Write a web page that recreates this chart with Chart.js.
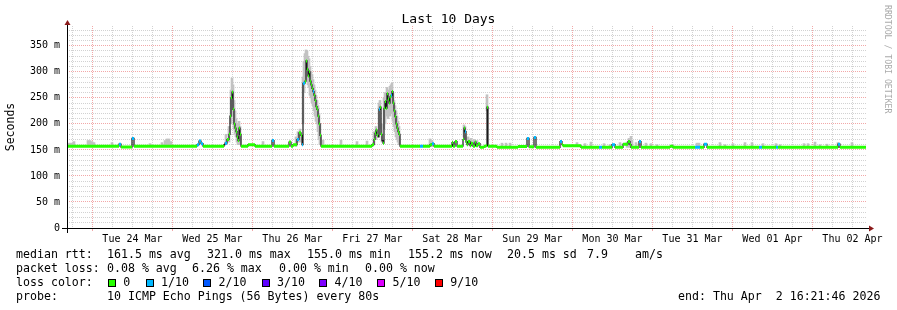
<!DOCTYPE html>
<html><head><meta charset="utf-8">
<script src="https://cdn.jsdelivr.net/npm/chart.js@4.4.1/dist/chart.umd.min.js"></script>
<style>
html,body{margin:0;padding:0;background:#fff;}
#wrap{position:relative;width:897px;height:310px;overflow:hidden;font-family:'DejaVu Sans Mono',monospace;color:#000;background:#fff;}
#wrap canvas{position:absolute;left:0;top:0;}
.tx{position:absolute;white-space:pre;font-size:11.6px;line-height:14px;}
.sq{position:absolute;width:6px;height:6px;border:1px solid #000;}
#title{position:absolute;left:0;top:11px;width:897px;text-align:center;font-size:13px;line-height:16px;white-space:pre;}
#rrd{position:absolute;left:883px;top:5px;writing-mode:vertical-rl;font-size:8.2px;line-height:10px;color:#aaaaaa;white-space:pre;}
</style></head><body>
<div id="wrap">
<canvas id="c" width="897" height="310"></canvas>
<div id="title">Last 10 Days</div>
<div id="rrd">RRDTOOL / TOBI OETIKER</div>
<div class="tx" style="left:16px;top:247px">median rtt:</div>
<div class="tx" style="left:107px;top:247px">161.5 ms avg</div>
<div class="tx" style="left:207px;top:247px">321.0 ms max</div>
<div class="tx" style="left:307px;top:247px">155.0 ms min</div>
<div class="tx" style="left:408px;top:247px">155.2 ms now</div>
<div class="tx" style="left:507px;top:247px">20.5 ms sd</div>
<div class="tx" style="left:587px;top:247px">7.9</div>
<div class="tx" style="left:635px;top:247px">am/s</div>
<div class="tx" style="left:16px;top:261px">packet loss:</div>
<div class="tx" style="left:107px;top:261px">0.08 % avg</div>
<div class="tx" style="left:192px;top:261px">6.26 % max</div>
<div class="tx" style="left:279px;top:261px">0.00 % min</div>
<div class="tx" style="left:365px;top:261px">0.00 % now</div>
<div class="tx" style="left:16px;top:275px">loss color:</div>
<div id="lossLegend"></div>
<div class="tx" style="left:16px;top:289px">probe:</div>
<div class="tx" style="left:107px;top:289px">10 ICMP Echo Pings (56 Bytes) every 80s</div>
<div class="tx" style="left:678px;top:289px">end: Thu Apr  2 16:21:46 2026</div>
</div>
<script>
// ---------- DATA ----------
// time axis: hours since window start (Mon 23 Mar 16:21:46), 240 h = 10 days
const xTickLabels = ['Tue 24 Mar','Wed 25 Mar','Thu 26 Mar','Fri 27 Mar','Sat 28 Mar','Sun 29 Mar','Mon 30 Mar','Tue 31 Mar','Wed 01 Apr','Thu 02 Apr'];
const lossLabels = ['0','1/10','2/10','3/10','4/10','5/10','9/10'];
const lossColors = ['#26ff00','#00b8ff','#0059ff','#5e00ff','#7e00ff','#dd00ff','#ff0000'];

// median rtt (ms): value holds from each time until the next one
const medianT = [
  0,15.6,16.2,19.5,20.1,39,39.6,40.2,40.8,47.1,
  47.4,48,48.6,48.9,49.2,49.5,49.8,50.1,50.4,50.7,
  51,51.3,51.6,51.9,52.2,54.3,56.4,61.5,62.1,66.6,
  67.2,67.8,69,69.6,70.2,70.5,70.8,71.4,71.7,72,
  72.3,72.6,72.9,73.2,73.5,73.8,74.1,74.4,74.7,75,
  75.3,75.6,75.9,76.2,91.5,92.1,92.4,92.7,93,93.3,
  93.6,93.9,94.2,94.5,94.8,95.1,95.4,95.7,96,96.3,
  96.6,96.9,97.2,97.5,97.8,98.1,98.4,98.7,99,99.3,
  99.6,99.9,105.9,106.8,108.9,109.5,110.1,115.5,115.8,116.4,
  117,118.8,119.1,119.4,119.7,120,120.3,120.9,121.2,121.8,
  122.4,122.7,123.3,123.9,125.1,125.7,126,126.3,129,135.3,
  138,138.6,140.1,140.7,147.9,148.5,148.8,154.2,159.6,160.5,
  163.5,164.4,166.8,168.3,168.9,169.2,171.6,172.2,180.9,181.8,
  188.4,189.9,191.1,192,207.6,208.5,212.7,213.3,231.3,231.9,
  239.7];
const medianV = [
  157,161,155.5,172,157,160,167,162,157,160,
  163,170,180,215,250,261,228,200,192,185,
  175,168,192,180,157,160,157,168,157,165,
  157,160,170,183,178,160,278,282,321,305,
  292,300,282,275,268,262,255,245,233,228,
  215,200,178,157,160,170,182,188,178,175,
  228,232,180,168,163,230,243,230,258,248,
  240,252,255,262,240,225,214,200,192,185,
  180,157,157,157,160,162,157,164,157,166,
  157,170,192,185,165,160,166,158,163,157,
  165,158,162,155,157,158,232,157,155,156.5,
  172,156,174,155,166,160,158,155,155,155,
  160,155,161,166,160,155,166,155,157,155,
  155,155,161,155,155,155,155,155,161,155,
  155];
// number of lost pings (of 10) for each median value
const medianLoss = [
  0,1,0,1,0,1,1,1,0,0,
  1,0,0,0,0,0,0,0,0,0,
  0,0,0,0,0,0,0,1,0,0,
  0,0,1,0,0,1,1,0,0,0,
  0,0,0,0,0,1,0,0,0,0,
  0,0,0,0,0,0,0,0,0,0,
  1,0,0,0,0,0,0,0,0,0,
  0,0,1,0,0,0,0,0,0,0,
  0,0,1,0,0,1,0,0,0,0,
  0,0,0,1,0,0,0,0,0,0,
  0,0,0,0,0,0,0,0,0,0,
  1,0,1,0,1,0,0,0,1,0,
  1,0,0,0,0,0,1,0,0,0,
  1,0,1,0,1,0,1,0,1,0,
  0];

// smoke: spread of the individual pings (ms)
const smokeT = [
  0.6,1.2,1.8,2.1,6.3,6.9,7.5,8.1,13.5,24.9,
  28.5,29.4,30,30.6,31.2,47.7,48.6,49.2,49.5,49.8,
  50.1,50.4,50.7,51,51.3,51.6,51.9,58.8,68.7,69.3,
  69.9,70.8,71.1,71.4,71.7,72,72.3,72.6,72.9,73.2,
  73.5,73.8,74.1,74.4,74.7,75,75.3,75.6,75.9,76.8,
  82.2,87,90,92.1,92.7,93.6,93.9,94.5,95.1,95.4,
  96,96.3,96.9,97.2,97.5,97.8,98.1,98.4,98.7,99,
  99.3,99.6,108.9,109.5,116.1,119.1,119.4,120.3,121.2,122.1,
  123,126,130.5,131.7,132.9,153,155.4,157.2,161.1,162.9,
  165.9,168,168.6,169.2,169.5,170.7,173.7,175.2,177,181.8,
  189,189.6,195.9,197.4,199.8,203.4,205.5,208.8,212.7,213.9,
  221.1,222.3,224.4,225.9,228,231.3,235.5];
const smokeLo = [
  157,157,157,157,157,157,157,157,157,157,
  157,157,157,157,157,160,165,200,230,215,
  190,180,175,165,160,165,160,157,157,165,
  165,200,260,280,300,285,275,270,255,250,
  240,235,225,215,205,200,185,170,160,157,
  157,157,157,160,170,180,190,165,190,200,
  215,210,215,220,225,205,195,185,175,170,
  165,160,157,157,157,175,170,160,158,158,
  157,225,155,155,155,157,155,155,155,155,
  155,155,155,155,155,155,155,155,155,155,
  155,155,155,155,155,155,155,155,155,155,
  155,155,155,155,155,155,155];
const smokeHi = [
  163,163,163,166,168,168,166,164,164,162,
  164,168,171,171,166,180,195,265,288,275,
  245,225,210,200,195,205,195,166,175,185,
  190,290,320,335,342,340,330,325,310,300,
  295,285,275,265,255,245,235,220,200,169,
  169,166,167,185,195,240,245,200,250,260,
  270,265,272,275,278,260,245,235,225,215,
  205,195,171,168,165,198,195,175,172,170,
  168,256,163,163,163,164,162,165,162,160,
  164,165,172,176,168,164,163,162,160,160,
  163,163,164,160,162,164,164,162,162,160,
  162,162,165,160,161,164,164];

const yMax = 388;            // top of the value axis (ms)
// ---------- END DATA ----------

const M0 = 7 + 38/60 + 14/3600;   // hours from start to Tue 24 Mar 00:00
const xTickValues = [];
for (let k = -1; M0 + 6*k <= 240; k++) xTickValues.push(M0 + 6*k);
const kOf = v => Math.round((v - M0) / 6);

const RED = '#f2a8a8', GRAY = '#d2d2d2';

function bandData(level) {
  const out = [];
  for (let i = 0; i < medianT.length - 1; i++) {
    if (medianLoss[i] !== level) continue;
    out.push({x: medianT[i], y: medianV[i]}, {x: medianT[i+1], y: medianV[i]}, {x: medianT[i+1], y: null});
  }
  return out;
}

// loss legend squares
const lg = document.getElementById('lossLegend');
const sqX = [108,145.7,203.3,261.7,319.3,377.3,435];
lossLabels.forEach((lab, i) => {
  const s = document.createElement('div');
  s.className = 'sq'; s.style.left = sqX[i] + 'px'; s.style.top = '278.5px'; s.style.background = lossColors[i];
  lg.appendChild(s);
  const t = document.createElement('div');
  t.className = 'tx'; t.style.left = (sqX[i] + 15.3) + 'px'; t.style.top = '275px'; t.textContent = lab;
  lg.appendChild(t);
});

const axisDeco = {
  id: 'axisDeco',
  afterDraw(chart) {
    const {ctx, chartArea: a} = chart;
    ctx.save();
    ctx.strokeStyle = '#000'; ctx.lineWidth = 1;
    ctx.beginPath();
    ctx.moveTo(a.left - 5, a.bottom + 0.5); ctx.lineTo(a.right + 3, a.bottom + 0.5);
    ctx.moveTo(a.left + 0.5, a.bottom + 5); ctx.lineTo(a.left + 0.5, a.top - 2);
    ctx.stroke();
    ctx.fillStyle = '#8b1a1a';
    ctx.beginPath();
    ctx.moveTo(a.right + 2, a.bottom + 0.5 - 3); ctx.lineTo(a.right + 7, a.bottom + 0.5); ctx.lineTo(a.right + 2, a.bottom + 3.5); ctx.closePath(); ctx.fill();
    ctx.beginPath();
    ctx.moveTo(a.left + 0.5 - 3, a.top - 1); ctx.lineTo(a.left + 0.5, a.top - 6); ctx.lineTo(a.left + 3.5, a.top - 1); ctx.closePath(); ctx.fill();
    ctx.restore();
  }
};

const datasets = [
  {type: 'bar', label: 'smoke', data: smokeT.map((t, i) => ({x: t, y: [smokeLo[i], smokeHi[i]]})),
   backgroundColor: '#c2c2c2', barThickness: 2, order: 3},
  {type: 'line', label: 'median', data: medianT.map((t, i) => ({x: t, y: medianV[i]})),
   stepped: true, borderColor: '#1a1a1a', borderWidth: 1.2, pointRadius: 0, order: 2}
];
[0, 1].forEach(level => datasets.push({
  type: 'line', label: 'loss ' + lossLabels[level], data: bandData(level),
  borderColor: lossColors[level], borderWidth: 3, borderCapStyle: 'butt', pointRadius: 0,
  spanGaps: false, tension: 0, order: 1
}));

new Chart(document.getElementById('c'), {
  type: 'line',
  data: {datasets},
  plugins: [axisDeco],
  options: {
    responsive: false, animation: false, devicePixelRatio: 1, events: [],
    layout: {padding: {left: 0, right: 30, top: 26, bottom: 0}},
    plugins: {legend: {display: false}, tooltip: {enabled: false}, title: {display: false}},
    scales: {
      x: {
        type: 'linear', min: 0, max: 240, offset: false,
        afterBuildTicks: s => { s.ticks = xTickValues.map(v => ({value: v})); },
        afterFit: s => { s.height = 82; },
        ticks: {
          autoSkip: false, maxRotation: 0, minRotation: 0, padding: 2, color: '#000',
          font: {family: 'DejaVu Sans Mono', size: 10},
          callback: v => { const k = kOf(v); return (k >= 2 && (k - 2) % 4 === 0) ? xTickLabels[(k - 2) / 4] : ''; }
        },
        grid: {
          lineWidth: 1, tickLength: 3, offset: false,
          color: c => (kOf(c.tick.value) >= 0 && kOf(c.tick.value) % 4 === 0) ? RED : GRAY,
          tickColor: c => (kOf(c.tick.value) >= 0 && kOf(c.tick.value) % 4 === 0) ? RED : 'rgba(0,0,0,0)'
        },
        border: {display: false, dash: [1, 1]}
      },
      y: {
        type: 'linear', min: 0, max: yMax,
        afterBuildTicks: s => { const t = []; for (let v = 0; v < yMax; v += 10) t.push({value: v}); s.ticks = t; },
        afterFit: s => { s.width = 67; },
        ticks: {
          autoSkip: false, padding: 7, color: '#000',
          font: {family: 'DejaVu Sans Mono', size: 10},
          callback: v => v % 50 === 0 ? (v === 0 ? '0' : v + ' m') : ''
        },
        grid: {
          lineWidth: 1, drawTicks: false,
          color: c => c.tick.value === 0 ? 'rgba(0,0,0,0)' : (c.tick.value % 50 === 0 ? RED : GRAY)
        },
        border: {display: false, dash: [1, 1]},
        title: {display: true, text: 'Seconds', color: '#000', font: {family: 'DejaVu Sans Mono', size: 11.5}, padding: {top: 4, bottom: 0}}
      }
    }
  }
});
</script>
</body></html>
